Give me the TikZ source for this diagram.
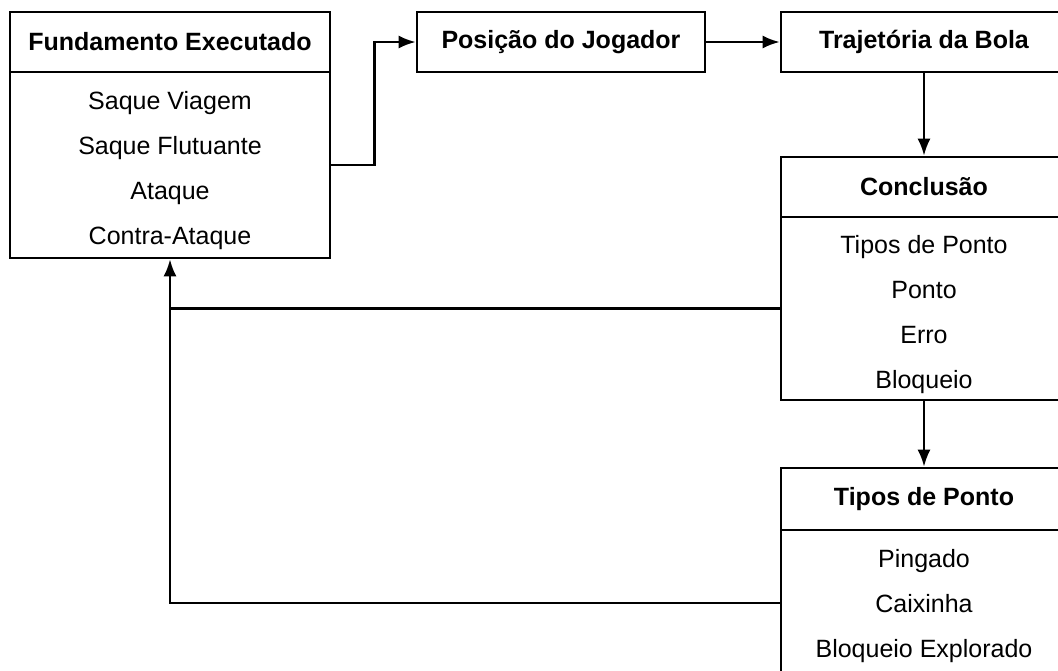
\documentclass[tikz,border=0pt]{standalone}
\usepackage{fontspec}
\setmainfont{Liberation Sans}
\usetikzlibrary{arrows.meta}

\begin{document}
\begin{tikzpicture}[x=0.5pt,y=-0.5pt,
	head/.style={draw,line width=1.3pt,minimum height=30pt,inner sep=0pt,
		font=\fontsize{12.5}{15}\selectfont\bfseries},
	body/.style={draw,line width=1.3pt,inner sep=0pt},
	item/.style={inner sep=0pt,text height=9pt,text depth=2.5pt,
		font=\fontsize{12.5}{15}\selectfont},
	link/.style={-{Latex[length=8.5pt,width=6.5pt]},line width=1.2pt}]
	\useasboundingbox (0,0) rectangle (1058,670);
	\clip (0,0) rectangle (1058,670);

	% Fundamento Executado
	\node[head,minimum width=160pt] (fundH) at (170,42) {Fundamento Executado};
	\node[body,minimum width=160pt,minimum height=93pt] (fundB) at (170,165) {};
	\foreach \t [count=\i] in {Saque Viagem,Saque Flutuante,Ataque,Contra-Ataque}
		\node[item] (fund-\i) at (170,{58+45*\i}) {\t};

	% top row
	\node[head,minimum width=144pt] (pos) at (561,42) {Posição do Jogador};
	\node[head,minimum width=143pt] (traj) at (924,42) {Trajetória da Bola};

	% Conclusao
	\node[head,minimum width=143pt] (concH) at (924,187) {Conclusão};
	\node[body,minimum width=143pt,minimum height=91.5pt] (concB) at (924,308.5) {};
	\foreach \t [count=\i] in {Tipos de Ponto,Ponto,Erro,Bloqueio}
		\node[item] (conc-\i) at (924,{202+45*\i}) {\t};

	% Tipos de Ponto
	\node[head,minimum width=143pt,minimum height=31pt] (tipH) at (924,499) {Tipos de Ponto};
	\node[body,minimum width=143pt,minimum height=73pt] (tipB) at (924,603) {};
	\foreach \t [count=\i] in {Pingado,Caixinha,Bloqueio Explorado}
		\node[item] (tip-\i) at (924,{516+45*\i}) {\t};

	% arrows
	\draw[link] (fundB.east) -- ++(43,0) |- (pos.west);
	\draw[link] (pos) -- (traj);
	\draw[link] (traj) -- (concH);
	\draw[link] (concB) -- (tipH);
	\draw[link] (tipB.west) -| (fundB.south);
	\draw[line width=1.2pt] (concB.west) -- (concB.west -| fundB.south);
\end{tikzpicture}
\end{document}
